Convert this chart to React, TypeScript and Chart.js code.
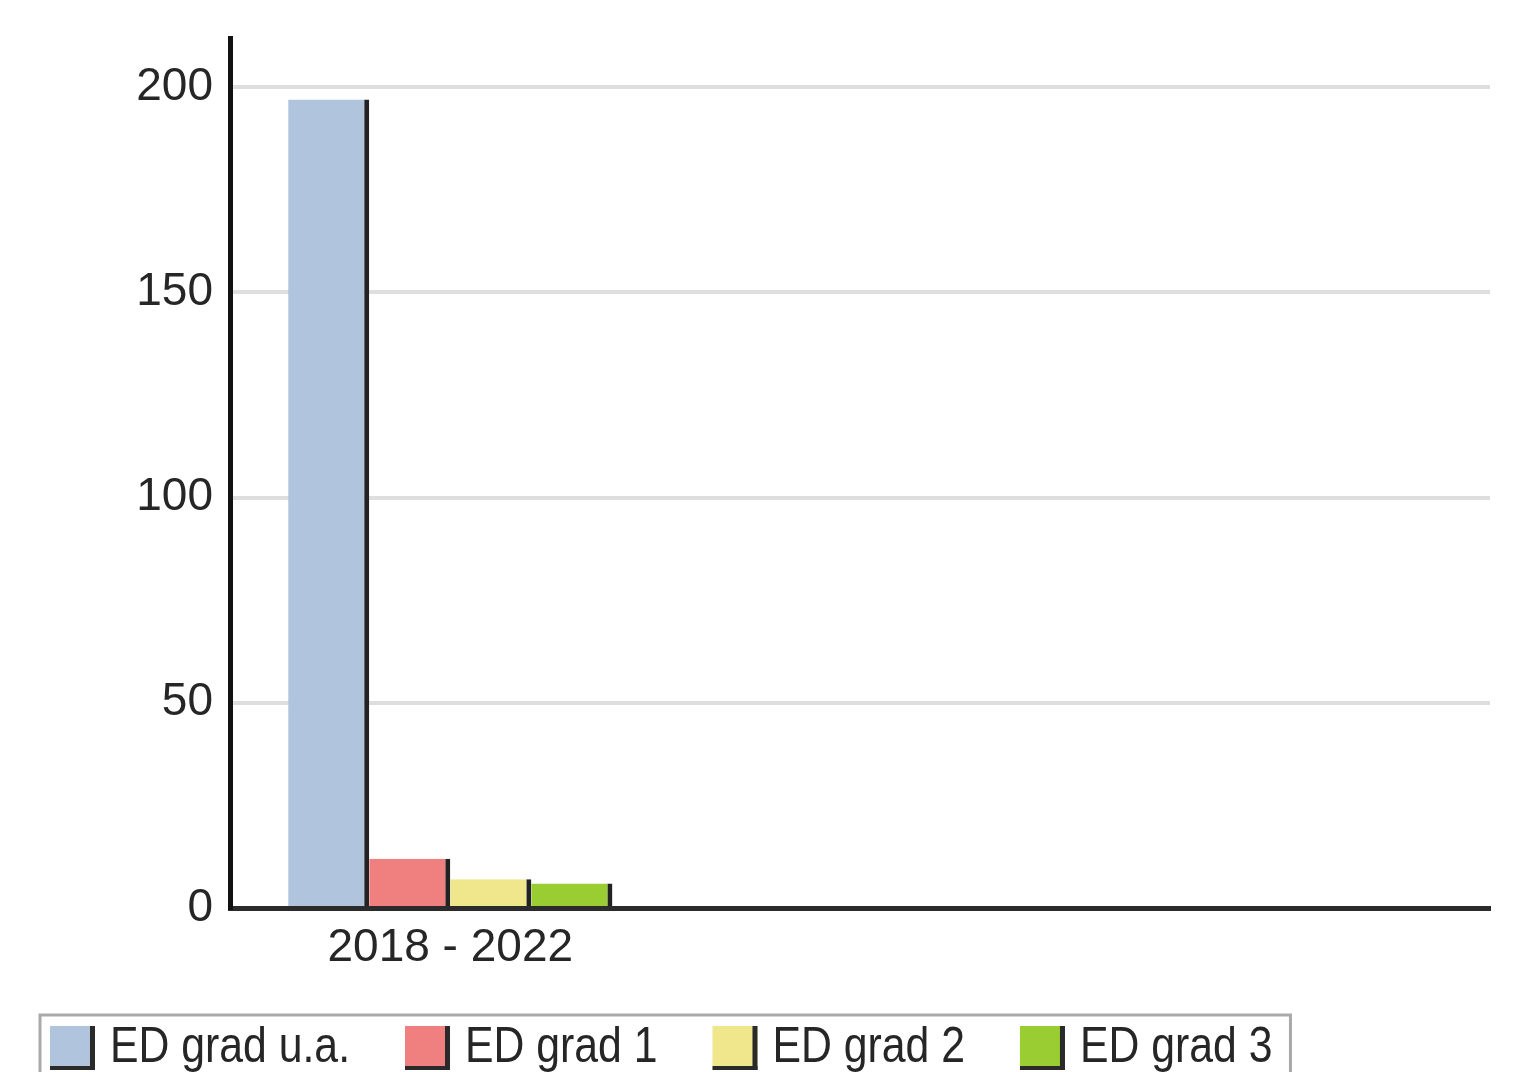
import React, { useEffect, useRef } from "react";
import { Chart, registerables } from "chart.js";

Chart.register(...registerables);

const categories = ["2018 - 2022", "", ""];
const seriesNames = ["ED grad u.a.", "ED grad 1", "ED grad 2", "ED grad 3"];
const seriesUA = [197];
const seriesG1 = [12];
const seriesG2 = [7];
const seriesG3 = [6];
const seriesColors = ["#b0c4de", "#f08080", "#f0e68c", "#9acd32"];
const yTickValues = [0, 50, 100, 150, 200];
const yMax = 212;

const FONT = '"Liberation Sans Narrow", "Liberation Sans", Arial, sans-serif';
const TEXT = "#262626";

const boxLegend = {
  id: "boxLegend",
  afterDraw(chart: any) {
    const ctx = chart.ctx as CanvasRenderingContext2D;
    ctx.save();
    ctx.font = `50px ${FONT}`;
    ctx.textBaseline = "middle";
    const squeeze = 0.855;
    const sw = 45, sh = 44, top = 1026, midY = 1048, gap = 55, textOff = 60;
    let x = 50;
    const pos: number[] = [];
    chart.data.datasets.forEach((d: any) => {
      pos.push(x);
      x += textOff + ctx.measureText(d.label).width * squeeze + gap;
    });
    const right = x - gap + 18;
    ctx.strokeStyle = "#a9a9a9";
    ctx.lineWidth = 3;
    ctx.strokeRect(40, 1015, right - 40, 120);
    chart.data.datasets.forEach((d: any, i: number) => {
      const px = pos[i];
      ctx.fillStyle = d.backgroundColor;
      ctx.fillRect(px, top, sw, sh);
      ctx.fillStyle = "#2a2a2a";
      ctx.fillRect(px + sw - 5, top, 5, sh);
      ctx.fillRect(px, top + sh - 4, sw, 4);
      ctx.fillStyle = TEXT;
      ctx.save();
      ctx.translate(px + textOff, midY);
      ctx.scale(squeeze, 1);
      ctx.fillText(d.label, 0, 0);
      ctx.restore();
    });
    ctx.restore();
  },
};

export default function App() {
  const ref = useRef<HTMLCanvasElement | null>(null);
  useEffect(() => {
    if (!ref.current) return;
    const values = [seriesUA, seriesG1, seriesG2, seriesG3];
    const chart = new Chart(ref.current, {
      type: "bar",
      data: {
        labels: categories,
        datasets: seriesNames.map((name, i) => ({
          label: name,
          data: values[i],
          backgroundColor: seriesColors[i],
          borderColor: "#222222",
          borderWidth: { top: 0, right: 5, bottom: 0, left: 0 },
          borderSkipped: false,
          barPercentage: 1,
          categoryPercentage: 0.736,
        })),
      },
      options: {
        responsive: false,
        animation: false,
        events: [],
        layout: { padding: { top: 38, right: 47, left: 0, bottom: 0 } },
        plugins: {
          legend: { display: false },
          tooltip: { enabled: false },
        },
        scales: {
          x: {
            grid: { display: false, drawTicks: false },
            border: { display: true, color: "#2b2b2b", width: 5 },
            ticks: {
              color: TEXT,
              font: { family: FONT, size: 46 },
              padding: 13,
              autoSkip: false,
              maxRotation: 0,
            },
            afterFit: (s: any) => {
              s.height = 164;
              s.paddingLeft = 0;
              s.paddingRight = 0;
            },
            afterUpdate: (s: any) => {
              s._startValue = -0.5;
              s._valueRange = 2.86;
            },
          },
          y: {
            min: 0,
            max: yMax,
            ticks: {
              stepSize: 50,
              color: TEXT,
              font: { family: FONT, size: 46 },
              padding: 17,
            },
            afterBuildTicks: (s: any) => {
              s.ticks = yTickValues.map((v) => ({ value: v }));
            },
            afterFit: (s: any) => {
              s.width = 230;
              s.paddingTop = 0;
              s.paddingBottom = 0;
            },
            grid: { color: "#dedede", lineWidth: 4, drawTicks: false },
            border: { display: true, color: "#111111", width: 5 },
          },
        },
      },
      plugins: [boxLegend],
    });
    return () => chart.destroy();
  }, []);
  return (
    <div style={{ position: "absolute", left: 0, top: 0, width: 1537, height: 1072, overflow: "hidden", background: "#fff" }}>
      <canvas ref={ref} width={1537} height={1072} style={{ display: "block" }} />
    </div>
  );
}
